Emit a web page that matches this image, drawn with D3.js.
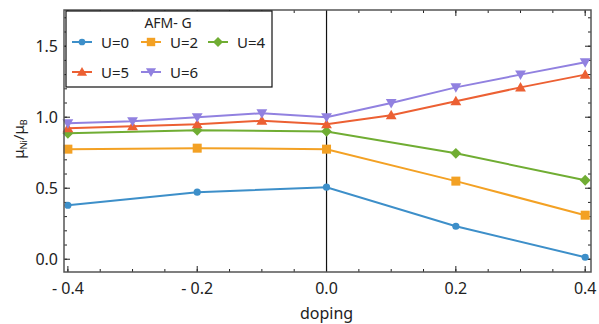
<!DOCTYPE html>
<html>
<head>
<meta charset="utf-8">
<script src="https://cdn.jsdelivr.net/npm/d3@7"></script>
<style>
  body { margin: 0; background: #fff; }
  svg { display: block; font-family: 'Noto Sans', 'Open Sans', sans-serif; }
</style>
</head>
<body>
<svg id="svg" width="599" height="324"></svg>
<script>
const doping = [-0.4, -0.3, -0.2, -0.1, 0.0, 0.1, 0.2, 0.3, 0.4];
const dopingCoarse = [-0.4, -0.2, 0.0, 0.2, 0.4];

const u0 = [0.38, 0.472, 0.507, 0.232, 0.014];
const u2 = [0.775, 0.782, 0.775, 0.55, 0.31];
const u4 = [0.887, 0.908, 0.90, 0.746, 0.556];
const u5 = [0.922, 0.937, 0.95, 0.975, 0.95, 1.014, 1.113, 1.21, 1.30];
const u6 = [0.957, 0.972, 1.0, 1.028, 1.0, 1.10, 1.21, 1.30, 1.387];

const xTicks = [-0.4, -0.2, 0.0, 0.2, 0.4];
const yTicks = [0.0, 0.5, 1.0, 1.5];

const series = [
  { name: 'U=0', xs: dopingCoarse, ys: u0, color: '#3d8fc9', shape: 'circle' },
  { name: 'U=2', xs: dopingCoarse, ys: u2, color: '#f3a124', shape: 'square' },
  { name: 'U=4', xs: dopingCoarse, ys: u4, color: '#70ad33', shape: 'diamond' },
  { name: 'U=5', xs: doping, ys: u5, color: '#ec6033', shape: 'up' },
  { name: 'U=6', xs: doping, ys: u6, color: '#9181e0', shape: 'down' },
];

const svg = d3.select('#svg');
const margin = { left: 64, right: 8, top: 10, bottom: 52 };
const width = 599 - margin.left - margin.right;
const height = 324 - margin.top - margin.bottom;

const x = d3.scaleLinear().domain([-0.406, 0.409]).range([0, width]);
const y = d3.scaleLinear().domain([-0.09, 1.755]).range([height, 0]);

const g = svg.append('g').attr('transform', `translate(${margin.left},${margin.top})`);

function fmt(v) {
  const s = d3.format('.1f')(Math.abs(v));
  return v < -1e-9 ? `- ${s}` : s;
}

// minor + major ticks, all pointing inward
const xMinor = d3.range(-0.4, 0.401, 0.05);
const yMinor = d3.range(0, 1.71, 0.1);

function tickLines(sel, vals, len, orient) {
  sel.selectAll(null).data(vals).enter().append('line')
    .attr('stroke', '#222')
    .attr('stroke-width', 1)
    .each(function (d) {
      const l = d3.select(this);
      if (orient === 'bottom') l.attr('x1', x(d)).attr('x2', x(d)).attr('y1', height).attr('y2', height - len);
      if (orient === 'top') l.attr('x1', x(d)).attr('x2', x(d)).attr('y1', 0).attr('y2', len);
      if (orient === 'left') l.attr('y1', y(d)).attr('y2', y(d)).attr('x1', 0).attr('x2', len);
      if (orient === 'right') l.attr('y1', y(d)).attr('y2', y(d)).attr('x1', width).attr('x2', width - len);
    });
}

const ticks = g.append('g');
tickLines(ticks, xMinor, 3, 'bottom');
tickLines(ticks, xTicks, 6, 'bottom');
tickLines(ticks, xMinor, 3, 'top');
tickLines(ticks, xTicks, 6, 'top');
tickLines(ticks, yMinor, 3, 'left');
tickLines(ticks, yTicks, 6, 'left');
tickLines(ticks, yMinor, 3, 'right');
tickLines(ticks, yTicks, 6, 'right');

// tick labels
g.append('g').selectAll('text').data(xTicks).enter().append('text')
  .attr('x', d => x(d))
  .attr('y', height + 22)
  .attr('text-anchor', 'middle')
  .attr('font-size', 16)
  .attr('fill', '#222')
  .text(fmt);

g.append('g').selectAll('text').data(yTicks).enter().append('text')
  .attr('x', -6)
  .attr('y', d => y(d) + 6)
  .attr('text-anchor', 'end')
  .attr('font-size', 16)
  .attr('fill', '#222')
  .text(fmt);

// zero line
g.append('line')
  .attr('x1', x(0)).attr('x2', x(0))
  .attr('y1', 0).attr('y2', height)
  .attr('stroke', '#111').attr('stroke-width', 1.2);

const line = d3.line().x(d => x(d[0])).y(d => y(d[1]));

function marker(sel, shape, color, size) {
  const s = size;
  if (shape === 'circle') {
    sel.append('circle').attr('r', s * 0.8).attr('fill', color);
  } else if (shape === 'square') {
    sel.append('rect').attr('x', -s).attr('y', -s).attr('width', 2 * s).attr('height', 2 * s).attr('fill', color);
  } else if (shape === 'diamond') {
    sel.append('path').attr('d', `M0,${-s * 1.2}L${s * 1.2},0L0,${s * 1.2}L${-s * 1.2},0Z`).attr('fill', color);
  } else if (shape === 'up') {
    sel.append('path').attr('d', `M0,${-s * 1.2}L${s * 1.2},${s * 0.9}L${-s * 1.2},${s * 0.9}Z`).attr('fill', color);
  } else if (shape === 'down') {
    sel.append('path').attr('d', `M0,${s * 1.2}L${s * 1.2},${-s * 0.9}L${-s * 1.2},${-s * 0.9}Z`).attr('fill', color);
  }
}

series.forEach((s) => {
  const pts = s.xs.map((xv, i) => [xv, s.ys[i]]);
  g.append('path')
    .datum(pts)
    .attr('fill', 'none')
    .attr('stroke', s.color)
    .attr('stroke-width', 2)
    .attr('d', line);
  pts.forEach((p) => {
    const m = g.append('g').attr('transform', `translate(${x(p[0])},${y(p[1])})`);
    marker(m, s.shape, s.color, 4.5);
  });
});

// frame
g.append('rect')
  .attr('width', width).attr('height', height)
  .attr('fill', 'none')
  .attr('stroke', '#555')
  .attr('stroke-width', 1.5);

// legend
const leg = svg.append('g').attr('transform', 'translate(66,11)');
leg.append('rect')
  .attr('width', 206).attr('height', 76)
  .attr('fill', '#fff')
  .attr('stroke', '#111')
  .attr('stroke-width', 1.2);
leg.append('text')
  .attr('x', 102).attr('y', 17)
  .attr('text-anchor', 'middle')
  .attr('font-size', 14)
  .attr('fill', '#222')
  .text('AFM- G');

const legPos = [[6, 31], [75, 31], [142, 31], [6, 61], [75, 61]];
series.forEach((s, i) => {
  const [lx, ly] = legPos[i];
  const item = leg.append('g').attr('transform', `translate(${lx},${ly})`);
  item.append('line').attr('x1', 0).attr('x2', 20).attr('y1', 0).attr('y2', 0)
    .attr('stroke', s.color).attr('stroke-width', 2);
  marker(item.append('g').attr('transform', 'translate(10,0)'), s.shape, s.color, 4.2);
  item.append('text')
    .attr('x', 29).attr('y', 5.5)
    .attr('font-size', 15)
    .attr('fill', '#222')
    .text(s.name);
});

// axis titles
svg.append('text')
  .attr('x', margin.left + x(0))
  .attr('y', 319)
  .attr('text-anchor', 'middle')
  .attr('font-size', 16)
  .attr('fill', '#222')
  .text('doping');

const yl = svg.append('text')
  .attr('transform', `translate(24,139) rotate(-90)`)
  .attr('text-anchor', 'middle')
  .attr('font-size', 15)
  .attr('fill', '#222');
yl.append('tspan').text('μ');
yl.append('tspan').attr('font-size', 9).attr('dy', 3).text('Ni');
yl.append('tspan').attr('dy', -3).text('/μ');
yl.append('tspan').attr('font-size', 9).attr('dy', 3).text('B');
</script>
</body>
</html>
